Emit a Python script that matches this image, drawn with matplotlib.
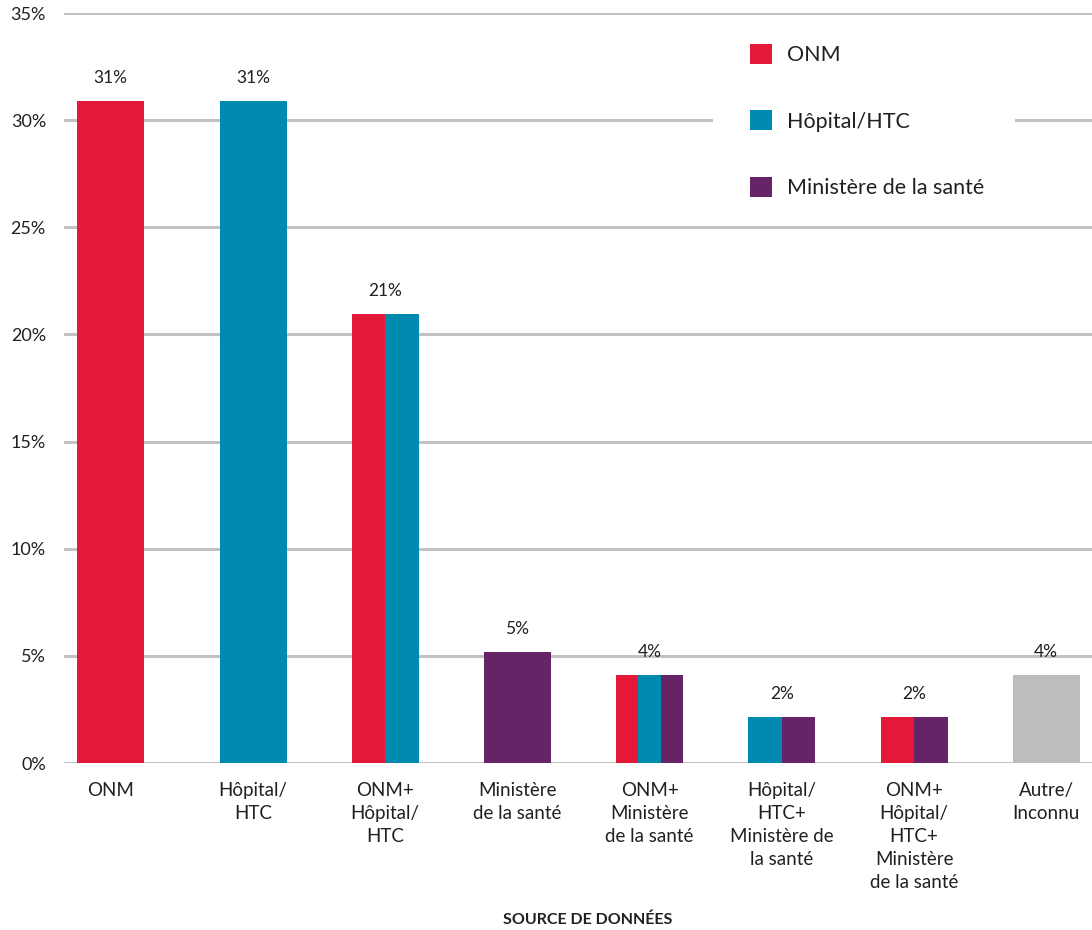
import matplotlib.pyplot as plt
from matplotlib.patches import Patch, Rectangle

# donnees
categories = ['ONM', 'Hôpital/\nHTC', 'ONM+\nHôpital/\nHTC', 'Ministère\nde la santé',
              'ONM+\nMinistère\nde la santé', 'Hôpital/\nHTC+\nMinistère de\nla santé',
              'ONM+\nHôpital/\nHTC+\nMinistère\nde la santé', 'Autre/\nInconnu']
values = [30.9, 30.9, 20.95, 5.2, 4.1, 2.15, 2.15, 4.1]
value_labels = ['31%', '31%', '21%', '5%', '4%', '2%', '2%', '4%']
# sources composant chaque barre (couleurs decoupees en parts egales)
segments = [['ONM'], ['HTC'], ['ONM', 'HTC'], ['MIN'], ['ONM', 'HTC', 'MIN'],
            ['HTC', 'MIN'], ['ONM', 'MIN'], ['AUT']]
legend_names = ['ONM', 'Hôpital/HTC', 'Ministère de la santé']
yticks = [0, 5, 10, 15, 20, 25, 30, 35]

colors = {'ONM': '#E31937', 'HTC': '#008AB0', 'MIN': '#662366', 'AUT': '#BDBDBD'}
txt = '#231F20'

plt.rcParams['font.family'] = ['Lato', 'DejaVu Sans']

fig = plt.figure(figsize=(10.92, 9.3), dpi=100)
ax = fig.add_axes([64/1092, 1-763/930, 1-64/1092, (763-13)/930])

# le premier ecart est un peu plus grand dans l'original
xpos = [-0.08] + list(range(1, len(categories)))
width = 0.507
for x, v, segs, lab in zip(xpos, values, segments, value_labels):
    n = len(segs)
    w = width/n
    for j, s in enumerate(segs):
        ax.bar(x - width/2 + w*j, v, width=w, align='edge', color=colors[s], zorder=3)
    ax.text(x, v + 0.7, lab, ha='center', va='bottom', fontsize=12.5, color=txt)

ax.set_xlim(-0.43, 7.346)
ax.set_ylim(0, 35)
ax.set_yticks(yticks)
ax.set_yticklabels([f'{t}%' for t in yticks], fontsize=13, color=txt)
ax.set_xticks(xpos)
ax.set_xticklabels(categories, fontsize=13.5, color=txt, linespacing=1.42)
ax.tick_params(axis='both', length=0)
ax.tick_params(axis='y', pad=13)
ax.tick_params(axis='x', pad=14)
ax.yaxis.grid(True, color='#C2C2C2', linewidth=2.2, zorder=0)
ax.set_axisbelow(True)
for sp in ax.spines.values():
    sp.set_visible(False)

# fond blanc derriere la legende (coupe la ligne des 30%)
ax.add_patch(Rectangle((0.631, 0.74), 0.294, 0.235, transform=ax.transAxes,
                       facecolor='white', edgecolor='none', zorder=1))

handles = [Patch(facecolor=colors[k], edgecolor='none') for k in ['ONM', 'HTC', 'MIN']]
leg = ax.legend(handles, legend_names, loc='upper left', bbox_to_anchor=(0.667, 0.959),
                frameon=False, fontsize=15.5, handlelength=1.05, handleheight=1.05,
                labelspacing=2.1, handletextpad=0.7, borderpad=0, borderaxespad=0)
for t in leg.get_texts():
    t.set_color(txt)
leg.set_zorder(5)

fig.text(588/1092, 1-920/930, 'SOURCE DE DONNÉES', ha='center', va='center',
         fontsize=11.5, fontweight='bold', color=txt)

plt.savefig('out.png', dpi=100)
